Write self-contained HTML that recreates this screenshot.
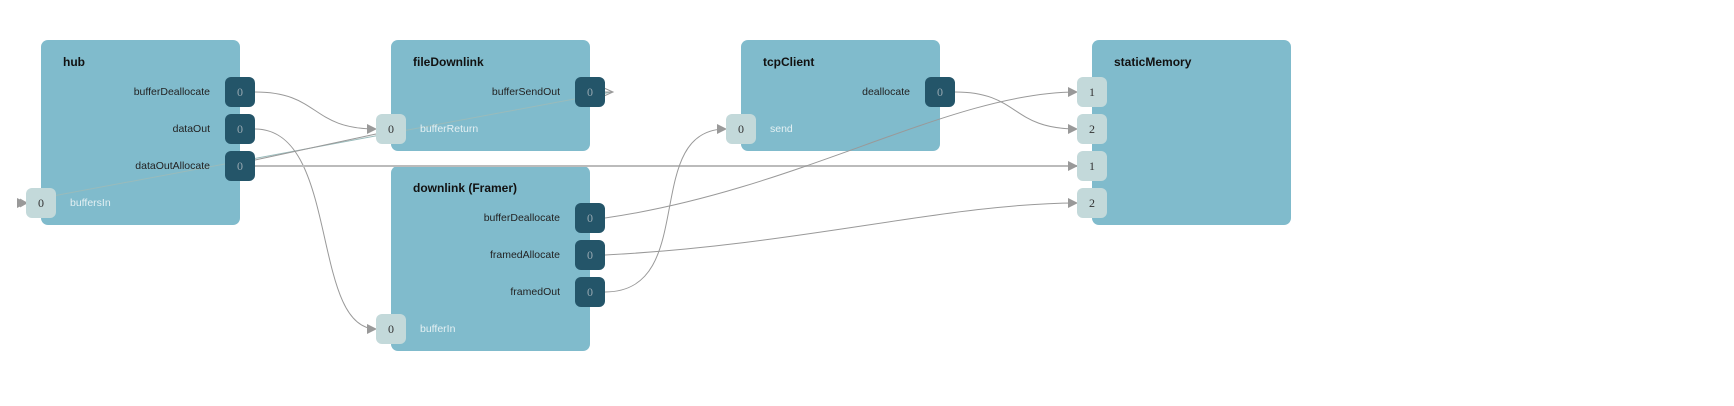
<!DOCTYPE html>
<html><head><meta charset="utf-8"><style>
body{margin:0;background:#fff;width:1734px;height:406px;overflow:hidden;font-family:"Liberation Sans",sans-serif;}
.n{position:absolute;background:#80bbcc;border-radius:7px;width:199px;}
.t{position:absolute;left:22px;top:15px;font-size:12px;font-weight:bold;color:#111;}
.p{position:absolute;width:30px;height:30px;border-radius:6px;font-family:"Liberation Serif",serif;font-size:12px;line-height:30px;text-align:center;}
.o{background:#245569;color:#98a9b2;}
.i{background:#c3d9da;color:#333;}
.l{position:absolute;font-size:10.5px;color:#222;line-height:14px;}
.li{position:absolute;font-size:10.5px;color:#e4f0f3;line-height:14px;}
svg{position:absolute;left:0;top:0;}
</style></head><body>
<div class="n" style="left:41px;top:40px;height:185px"><div class="t">hub</div></div>
<div class="n" style="left:391px;top:40px;height:111px"><div class="t">fileDownlink</div></div>
<div class="n" style="left:391px;top:166px;height:185px"><div class="t">downlink (Framer)</div></div>
<div class="n" style="left:741px;top:40px;height:111px"><div class="t">tcpClient</div></div>
<div class="n" style="left:1092px;top:40px;height:185px"><div class="t">staticMemory</div></div>

<svg width="1734" height="406">
<g fill="none" stroke="#999" stroke-width="1">
<path d="M612,92 L26,201" stroke="#9bb"/>
<path d="M605,92 L612,92"/>
<path d="M255,92 C320,92 310,129 376,129"/>
<path d="M255,129 C340,129 310,329 376,329"/>
<path d="M255,166 L1077,166" stroke="#bbb" stroke-width="2"/>
<path d="M255,160 L376,134"/>
<path d="M955,92 C1020,92 1010,129 1077,129"/>
<path d="M605,218 C800,190 950,92 1077,92"/>
<path d="M605,255 C800,245 950,203 1077,203"/>
<path d="M605,292 C700,292 640,129 726,129"/>
<path d="M604,88 L613,92 L604,96" stroke="#999"/>
<path d="M20,199 L27,203 L20,207"/>
</g>
<g fill="#999">
<path d="M367,124 L377,129 L367,134z"/>
<path d="M367,324 L377,329 L367,334z"/>
<path d="M717,124 L727,129 L717,134z"/>
<path d="M1068,87 L1078,92 L1068,97z"/>
<path d="M1068,124 L1078,129 L1068,134z"/>
<path d="M1068,161 L1078,166 L1068,171z"/>
<path d="M1068,198 L1078,203 L1068,208z"/>
<path d="M17,198 L27,203 L17,208z"/>
</g></svg>

<div class="p o" style="left:225px;top:77px">0</div>
<div class="p o" style="left:225px;top:114px">0</div>
<div class="p o" style="left:225px;top:151px">0</div>
<div class="p i" style="left:26px;top:188px">0</div>
<div class="l" style="right:1524px;top:85px">bufferDeallocate</div>
<div class="l" style="right:1524px;top:122px">dataOut</div>
<div class="l" style="right:1524px;top:159px">dataOutAllocate</div>
<div class="li" style="left:70px;top:196px">buffersIn</div>

<div class="p o" style="left:575px;top:77px">0</div>
<div class="p i" style="left:376px;top:114px">0</div>
<div class="l" style="right:1174px;top:85px">bufferSendOut</div>
<div class="li" style="left:420px;top:122px">bufferReturn</div>

<div class="p o" style="left:575px;top:203px">0</div>
<div class="p o" style="left:575px;top:240px">0</div>
<div class="p o" style="left:575px;top:277px">0</div>
<div class="p i" style="left:376px;top:314px">0</div>
<div class="l" style="right:1174px;top:211px">bufferDeallocate</div>
<div class="l" style="right:1174px;top:248px">framedAllocate</div>
<div class="l" style="right:1174px;top:285px">framedOut</div>
<div class="li" style="left:420px;top:322px">bufferIn</div>

<div class="p o" style="left:925px;top:77px">0</div>
<div class="p i" style="left:726px;top:114px">0</div>
<div class="l" style="right:824px;top:85px">deallocate</div>
<div class="li" style="left:770px;top:122px">send</div>

<div class="p i" style="left:1077px;top:77px">1</div>
<div class="p i" style="left:1077px;top:114px">2</div>
<div class="p i" style="left:1077px;top:151px">1</div>
<div class="p i" style="left:1077px;top:188px">2</div>
</body></html>
